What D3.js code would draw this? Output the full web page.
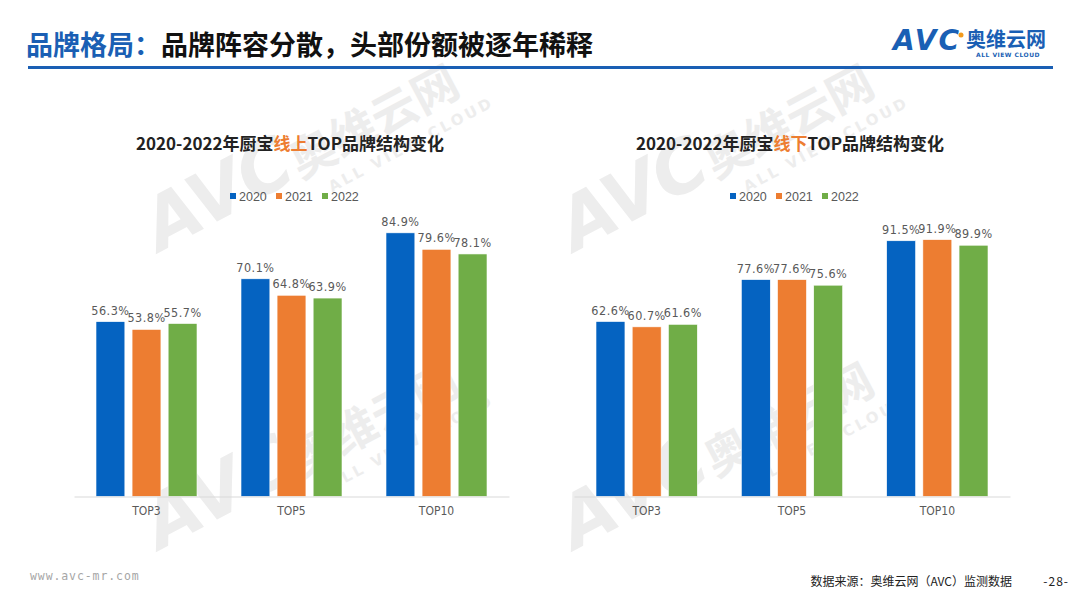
<!DOCTYPE html>
<html>
<head>
<meta charset="utf-8">
<script src="https://cdn.jsdelivr.net/npm/d3@7"></script>
<style>
  html, body { margin: 0; padding: 0; background: #fff; }
  svg { display: block; font-family: "Noto Sans CJK SC", "Noto Sans", sans-serif; }
</style>
</head>
<body>
<div id="chart"></div>
<script>
// Données
const categories = ["TOP3", "TOP5", "TOP10"];
const years = ["2020", "2021", "2022"];
const onlineValues = [
  [56.3, 53.8, 55.7],
  [70.1, 64.8, 63.9],
  [84.9, 79.6, 78.1],
];
const offlineValues = [
  [62.6, 60.7, 61.6],
  [77.6, 77.6, 75.6],
  [91.5, 91.9, 89.9],
];
const yMaxOnline = 90;
const yMaxOffline = 100;

const W = 1080, H = 608;
const colors = d3.scaleOrdinal().domain(years).range(["#0563c1", "#ed7d31", "#70ad47"]);
const blue = "#1a5fb4";

const svg = d3.select("#chart").append("svg").attr("width", W).attr("height", H);

// Filigranes (derrière les barres)
function watermark(x, y) {
  const g = svg.append("g")
    .attr("transform", `translate(${x},${y}) rotate(-28)`)
    .style("fill", "#ededed");
  g.append("text").attr("x", 0).attr("y", 0)
    .style("font-family", "DejaVu Sans").style("font-weight", "bold").style("font-style", "italic")
    .style("font-size", "72px").style("letter-spacing", "-1px").text("AVC");
  g.append("text").attr("x", 158).attr("y", 2)
    .style("font-weight", "bold").style("font-size", "46px").text("奥维云网");
  g.append("text").attr("x", 180).attr("y", 28)
    .style("font-family", "DejaVu Sans").style("font-weight", "bold")
    .style("font-size", "15px").style("letter-spacing", "3px").text("ALL VIEW CLOUD");
}
watermark(160, 252);
watermark(575, 252);
watermark(160, 550);
watermark(575, 550);

// En-tête
const title = svg.append("text").attr("x", 26).attr("y", 55)
  .style("font-size", "27px").style("font-weight", "bold");
title.append("tspan").style("fill", blue).text("品牌格局：");
title.append("tspan").style("fill", "#111").text("品牌阵容分散，头部份额被逐年稀释");

svg.append("rect").attr("x", 28).attr("y", 66).attr("width", 1025).attr("height", 3).attr("fill", blue);

// Logo
const logo = svg.append("g").attr("transform", "translate(893,50)");
logo.append("text").attr("x", 0).attr("y", 0)
  .style("font-family", "DejaVu Sans").style("font-weight", "bold").style("font-style", "italic")
  .style("font-size", "28px").style("fill", blue).style("letter-spacing", "2px").text("AVC");
logo.append("circle").attr("cx", 68).attr("cy", -15).attr("r", 2.5).attr("fill", "#f39a1d");
logo.append("text").attr("x", 73).attr("y", -3)
  .style("font-weight", "bold").style("font-size", "20px").style("fill", blue).text("奥维云网");
logo.append("text").attr("x", 83).attr("y", 7)
  .style("font-family", "DejaVu Sans").style("font-weight", "bold")
  .style("font-size", "6px").style("fill", blue).style("letter-spacing", "0.5px").text("ALL VIEW CLOUD");

// Graphique
function drawChart(opts) {
  const { x0, x1, top, bottom, values, yMax, channel, cx } = opts;

  const x = d3.scaleBand().domain(categories).range([x0, x1]);
  const xi = d3.scaleBand().domain(years).range([22, x.bandwidth() - 22]).paddingInner(0.2);
  const y = d3.scaleLinear().domain([0, yMax]).range([bottom, top]);

  const t = svg.append("text").attr("x", cx).attr("y", 150).attr("text-anchor", "middle")
    .style("font-size", "17px").style("font-weight", "bold").style("fill", "#222");
  t.append("tspan").text("2020-2022年厨宝");
  t.append("tspan").style("fill", "#ed7d31").text(channel);
  t.append("tspan").text("TOP品牌结构变化");

  // Légende
  const leg = svg.append("g").attr("transform", `translate(${cx - 60},197)`);
  years.forEach((yr, i) => {
    const lg = leg.append("g").attr("transform", `translate(${i * 46},0)`);
    lg.append("rect").attr("x", 0).attr("y", -4).attr("width", 6).attr("height", 6).attr("fill", colors(yr));
    lg.append("text").attr("x", 9).attr("y", 4)
      .style("font-family", "Liberation Sans, Arial").style("font-size", "12.5px").style("fill", "#595959").text(yr);
  });

  const groups = svg.append("g").selectAll("g").data(categories).join("g")
    .attr("transform", d => `translate(${x(d)},0)`);

  const cells = (d, ci) => years.map((yr, j) => ({ yr, v: values[ci][j] }));

  groups.selectAll("rect").data(cells)
    .join("rect")
    .attr("x", d => xi(d.yr))
    .attr("width", xi.bandwidth())
    .attr("y", d => y(d.v))
    .attr("height", d => y(0) - y(d.v))
    .attr("fill", d => colors(d.yr))
    .attr("stroke", "#fff").attr("stroke-width", 0.6);

  groups.selectAll("text.lbl").data(cells)
    .join("text").attr("class", "lbl")
    .attr("x", d => xi(d.yr) + xi.bandwidth() / 2)
    .attr("y", d => y(d.v) - 7)
    .attr("text-anchor", "middle")
    .style("font-family", "Liberation Sans Narrow, DejaVu Sans Condensed, sans-serif")
    .style("font-size", "12.5px").style("letter-spacing", "0.5px").style("fill", "#595959")
    .text(d => d.v.toFixed(1) + "%");

  // Axe
  const axis = svg.append("g").attr("transform", `translate(0,${bottom})`)
    .call(d3.axisBottom(x).tickSize(0).tickPadding(10));
  axis.select(".domain").attr("stroke", "#d9d9d9").attr("stroke-width", 1.2);
  axis.selectAll("text")
    .style("font-family", "Liberation Sans Narrow, DejaVu Sans Condensed, sans-serif")
    .style("font-size", "12px").style("fill", "#595959");
}

drawChart({ x0: 74, x1: 509, top: 217, bottom: 496.5, values: onlineValues, yMax: yMaxOnline, channel: "线上", cx: 290 });
drawChart({ x0: 574, x1: 1010, top: 217, bottom: 496.5, values: offlineValues, yMax: yMaxOffline, channel: "线下", cx: 790 });

// Pied de page
svg.append("text").attr("x", 30).attr("y", 580)
  .style("font-family", "DejaVu Sans Mono, monospace").style("font-size", "11.5px")
  .style("letter-spacing", "0.9px").style("fill", "#a6a6a6")
  .text("www.avc-mr.com");
svg.append("text").attr("x", 1012).attr("y", 586).attr("text-anchor", "end")
  .style("font-size", "12px").style("fill", "#222").text("数据来源：奥维云网（AVC）监测数据");
svg.append("text").attr("x", 1069).attr("y", 586).attr("text-anchor", "end")
  .style("font-size", "12px").style("letter-spacing", "1px").style("fill", "#222").text("-28-");
</script>
</body>
</html>
